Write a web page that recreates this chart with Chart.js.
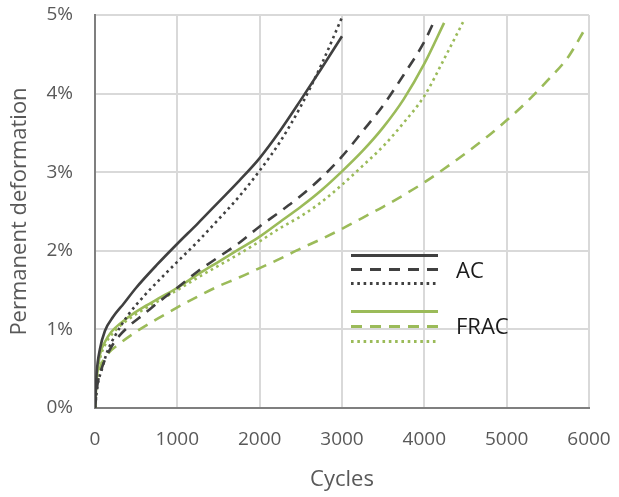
<!DOCTYPE html>
<html>
<head>
<meta charset="utf-8">
<script src="https://cdn.jsdelivr.net/npm/chart.js@4/dist/chart.umd.min.js"></script>
<style>
  body { margin: 0; background: #fff; }
  #wrap { width: 619px; height: 497px; }
</style>
</head>
<body>
<div id="wrap"><canvas id="grafico" width="619" height="497"></canvas></div>
<script>
// ciclos (x) e deformacao permanente em % (y)
const acSolidX = [0, 20, 60, 120, 220, 350, 500, 750, 1000, 1250, 1500, 1750, 2000, 2250, 2500, 2750, 3000];
const acSolidY = [0, 0.44, 0.75, 0.98, 1.16, 1.33, 1.53, 1.82, 2.09, 2.35, 2.62, 2.89, 3.18, 3.53, 3.92, 4.32, 4.73];

const acDashX = [0, 30, 80, 150, 250, 400, 600, 800, 1000, 1250, 1500, 1750, 2000, 2250, 2500, 2750, 3000, 3250, 3500, 3750, 4000, 4110];
const acDashY = [0, 0.30, 0.50, 0.68, 0.86, 1.03, 1.20, 1.37, 1.53, 1.74, 1.92, 2.10, 2.31, 2.50, 2.70, 2.93, 3.20, 3.52, 3.85, 4.24, 4.66, 4.90];

const acDotX = [0, 30, 80, 150, 250, 400, 600, 800, 1000, 1250, 1500, 1750, 2000, 2250, 2500, 2750, 3000];
const acDotY = [0, 0.28, 0.48, 0.72, 0.93, 1.18, 1.43, 1.65, 1.86, 2.12, 2.40, 2.69, 3.02, 3.39, 3.84, 4.37, 4.97];

const fracSolidX = [0, 20, 60, 120, 200, 300, 450, 600, 800, 1000, 1250, 1500, 1750, 2000, 2250, 2500, 2750, 3000, 3250, 3500, 3750, 4000, 4240];
const fracSolidY = [0, 0.35, 0.68, 0.84, 0.97, 1.07, 1.19, 1.29, 1.41, 1.53, 1.70, 1.86, 2.02, 2.18, 2.37, 2.56, 2.77, 3.01, 3.27, 3.57, 3.93, 4.38, 4.90];

const fracDashX = [0, 20, 60, 150, 300, 500, 750, 1000, 1250, 1500, 1750, 2000, 2250, 2500, 2750, 3000, 3250, 3500, 3750, 4000, 4250, 4500, 4750, 5000, 5250, 5500, 5750, 5950];
const fracDashY = [0, 0.27, 0.50, 0.68, 0.82, 0.97, 1.13, 1.28, 1.42, 1.55, 1.66, 1.78, 1.90, 2.03, 2.15, 2.28, 2.42, 2.56, 2.71, 2.87, 3.05, 3.24, 3.44, 3.66, 3.90, 4.17, 4.47, 4.82];

const fracDotX = [0, 20, 60, 120, 200, 300, 450, 600, 800, 1000, 1250, 1500, 1750, 2000, 2250, 2500, 2750, 3000, 3250, 3500, 3750, 4000, 4250, 4480];
const fracDotY = [0, 0.32, 0.62, 0.80, 0.93, 1.04, 1.16, 1.26, 1.38, 1.50, 1.66, 1.81, 1.96, 2.12, 2.29, 2.44, 2.62, 2.84, 3.08, 3.33, 3.63, 3.97, 4.46, 4.93];

const xTicks = [0, 1000, 2000, 3000, 4000, 5000, 6000];
const yTicks = [0, 1, 2, 3, 4, 5];
const grupos = ["AC", "FRAC"];

const escuro = "#404040";
const verde = "#9BBB59";
const cinza = "#595959";
const fonte = "'Open Sans', 'Noto Sans', sans-serif";

function pontos(xs, ys) {
    return xs.map((x, i) => ({ x: x, y: ys[i] }));
}

function serie(xs, ys, cor, traco) {
    return {
        data: pontos(xs, ys),
        borderColor: cor,
        borderWidth: 2.6,
        borderDash: traco,
        borderCapStyle: "butt",
        pointRadius: 0,
        showLine: true,
        fill: false,
        cubicInterpolationMode: "monotone"
    };
}

const tracoDash = [11, 8];
const tracoDot = [2.6, 3.7];

// legenda desenhada a mao, como no original
const legendaManual = {
    id: "legendaManual",
    afterDatasetsDraw(chart) {
        const c = chart.ctx;
        const x0 = 351, x1 = 438;
        const linhas = [
            [escuro, [], 255.5], [escuro, tracoDash, 269.5], [escuro, tracoDot, 283.5],
            [verde, [], 311.5], [verde, tracoDash, 326.5], [verde, tracoDot, 341.5]
        ];
        c.save();
        linhas.forEach(l => {
            c.beginPath();
            c.strokeStyle = l[0];
            c.lineWidth = 3;
            c.lineCap = "butt";
            c.setLineDash(l[1]);
            c.moveTo(x0, l[2]);
            c.lineTo(x1, l[2]);
            c.stroke();
        });
        c.setLineDash([]);
        c.fillStyle = "#1a1a1a";
        c.font = "22px " + fonte;
        c.textBaseline = "middle";
        c.textAlign = "left";
        c.fillText(grupos[0], 456, 272);
        c.fillText(grupos[1], 456, 328);
        c.restore();
    }
};

new Chart(document.getElementById("grafico").getContext("2d"), {
    type: "scatter",
    data: {
        datasets: [
            serie(acSolidX, acSolidY, escuro, []),
            serie(acDashX, acDashY, escuro, tracoDash),
            serie(acDotX, acDotY, escuro, tracoDot),
            serie(fracSolidX, fracSolidY, verde, []),
            serie(fracDashX, fracDashY, verde, tracoDash),
            serie(fracDotX, fracDotY, verde, tracoDot)
        ]
    },
    options: {
        responsive: false,
        animation: false,
        layout: { padding: { top: 15, right: 30, left: 0, bottom: 0 } },
        plugins: {
            legend: { display: false },
            tooltip: { enabled: false }
        },
        scales: {
            x: {
                type: "linear",
                min: xTicks[0],
                max: xTicks[xTicks.length - 1],
                afterBuildTicks: s => { s.ticks = xTicks.map(v => ({ value: v })); },
                afterFit: s => { s.height = 89; s.paddingLeft = 0; s.paddingRight = 0; },
                grid: { color: "#D9D9D9", lineWidth: 2, drawTicks: false },
                border: { color: "#7F7F7F", width: 2 },
                ticks: { color: cinza, font: { size: 19, family: fonte }, padding: 20, callback: v => String(v) },
                title: { display: true, text: "Cycles", color: cinza, font: { size: 22, family: fonte }, padding: { top: 0, bottom: 4 } }
            },
            y: {
                min: yTicks[0],
                max: yTicks[yTicks.length - 1],
                afterBuildTicks: s => { s.ticks = yTicks.map(v => ({ value: v })); },
                afterFit: s => { s.width = 95; s.paddingTop = 0; s.paddingBottom = 0; },
                grid: { color: "#D9D9D9", lineWidth: 2, drawTicks: false },
                border: { color: "#7F7F7F", width: 2 },
                ticks: { color: cinza, font: { size: 19, family: fonte }, padding: 22, callback: v => v + "%" },
                title: { display: true, text: "Permanent deformation", color: cinza, font: { size: 22, family: fonte }, padding: { top: 7, bottom: 0 } }
            }
        }
    },
    plugins: [legendaManual]
});
</script>
</body>
</html>
